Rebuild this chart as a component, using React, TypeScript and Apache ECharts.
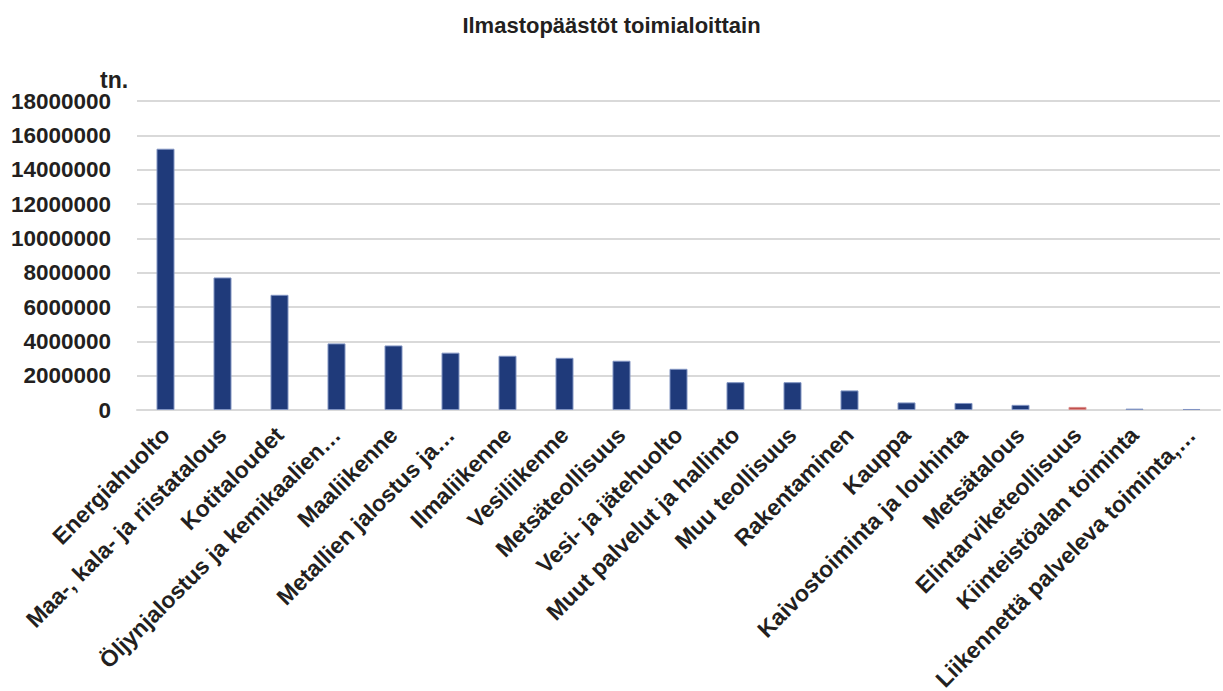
import React, { useEffect, useRef } from "react";
import * as echarts from "echarts";

const categories: string[] = [
  "Energiahuolto",
  "Maa-, kala- ja riistatalous",
  "Kotitaloudet",
  "Öljynjalostus ja kemikaalien…",
  "Maaliikenne",
  "Metallien jalostus ja…",
  "Ilmaliikenne",
  "Vesiliikenne",
  "Metsäteollisuus",
  "Vesi- ja jätehuolto",
  "Muut palvelut ja hallinto",
  "Muu teollisuus",
  "Rakentaminen",
  "Kauppa",
  "Kaivostoiminta ja louhinta",
  "Metsätalous",
  "Elintarviketeollisuus",
  "Kiinteistöalan toiminta",
  "Liikennettä palveleva toiminta,…",
];

const emissions: number[] = [
  15220000, 7720000, 6710000, 3880000, 3760000, 3340000, 3160000, 3040000,
  2870000, 2400000, 1620000, 1620000, 1140000, 440000, 410000, 300000,
  180000, 80000, 60000,
];

const highlighted: string[] = ["Elintarviketeollisuus"];

const yTicks = { min: 0, max: 18000000, interval: 2000000 };

const TITLE = "Ilmastopäästöt toimialoittain";
const UNIT = "tn.";

export default function App() {
  const ref = useRef<HTMLDivElement>(null);

  useEffect(() => {
    document.body.style.margin = "0";
    if (!ref.current) return;
    const chart = echarts.init(ref.current, undefined, { renderer: "svg" });
    const font = "'Liberation Sans', Arial, sans-serif";
    chart.setOption({
      animation: false,
      backgroundColor: "#ffffff",
      title: {
        text: TITLE,
        left: "center",
        top: 9,
        textStyle: {
          fontFamily: font,
          fontSize: 22,
          fontWeight: "bold",
          color: "#231f20",
        },
      },
      graphic: [
        {
          type: "text",
          left: 100,
          top: 68,
          z: 10,
          style: {
            text: UNIT,
            font: `bold 23px ${font}`,
            fill: "#231f20",
          },
        },
      ],
      grid: {
        left: 137,
        right: 3,
        top: 101,
        bottom: 281,
        containLabel: false,
        outerBoundsMode: "none",
      },
      xAxis: {
        type: "category",
        data: categories,
        axisLine: { show: true, lineStyle: { color: "#d9d9d9", width: 2 } },
        axisTick: { show: false },
        axisLabel: {
          interval: 0,
          rotate: 45,
          margin: 21,
          fontFamily: font,
          fontSize: 23,
          fontWeight: "bold",
          color: "#231f20",
        },
      },
      yAxis: {
        type: "value",
        min: yTicks.min,
        max: yTicks.max,
        interval: yTicks.interval,
        axisLine: { show: false },
        axisTick: { show: false },
        splitLine: { lineStyle: { color: "#d9d9d9", width: 2 } },
        axisLabel: {
          margin: 26,
          fontFamily: font,
          fontSize: 22.5,
          fontWeight: "bold",
          color: "#231f20",
          formatter: (v: number) => String(v),
        },
      },
      series: [
        {
          type: "bar",
          barWidth: 18,
          data: emissions.map((v, i) => ({
            value: v,
            itemStyle: {
              color: highlighted.includes(categories[i]) ? "#c0504d" : "#1f3a7a",
              borderColor: highlighted.includes(categories[i]) ? "#d98b89" : "#8194c2",
              borderWidth: 1,
            },
          })),
        },
      ],
    });
    return () => chart.dispose();
  }, []);

  return <div ref={ref} style={{ width: 1223, height: 691 }} />;
}
